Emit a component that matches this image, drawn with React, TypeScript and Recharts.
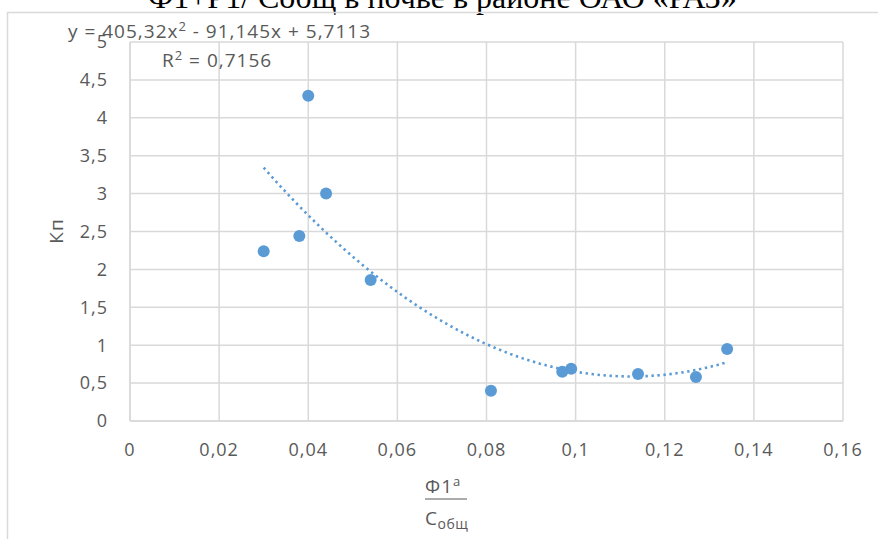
import React from "react";
import {
  CartesianGrid,
  Scatter,
  ScatterChart,
  XAxis,
  YAxis,
} from "recharts";

// measured points: share of Ф1ª in total carbon vs Кп
const xValues = [0.03, 0.038, 0.04, 0.044, 0.054, 0.081, 0.097, 0.099, 0.114, 0.127, 0.134];
const kpValues = [2.24, 2.44, 4.29, 3.0, 1.86, 0.4, 0.65, 0.69, 0.62, 0.58, 0.95];

// polynomial trend (2nd order) as printed on the chart
const trendCoef = [405.32, -91.145, 5.7113];
const trendFrom = 0.03;
const trendTo = 0.134;

const xTicks = [0, 0.02, 0.04, 0.06, 0.08, 0.1, 0.12, 0.14, 0.16];
const yTicks = [0, 0.5, 1, 1.5, 2, 2.5, 3, 3.5, 4, 4.5, 5];

const FONT = "'Open Sans', sans-serif";
const TEXT = "#595959";
const GRID = "#d9d9d9";
const BLUE = "#5b9bd5";

const points = xValues.map((x, i) => ({ x, y: kpValues[i] }));

const trend: { x: number; y: number }[] = [];
for (let i = 0; i <= 52; i++) {
  const x = trendFrom + ((trendTo - trendFrom) * i) / 52;
  trend.push({ x, y: trendCoef[0] * x * x + trendCoef[1] * x + trendCoef[2] });
}

const comma = (v: number) => String(v).replace(".", ",");

const tickStyle = { fontFamily: FONT, fontSize: 18, fill: TEXT, letterSpacing: 1 };

const Dot = (props: any) => (
  <circle cx={props.cx} cy={props.cy} r={6} fill={BLUE} />
);

const NoDot = () => <g />;

export default function App() {
  return (
    <div
      style={{
        position: "absolute",
        left: 0,
        top: 0,
        width: 878,
        height: 539,
        overflow: "hidden",
        background: "#fff",
      }}
    >
      <svg
        width={878}
        height={539}
        style={{ position: "absolute", left: 0, top: 0 }}
      >
        <text
          x={148}
          y={8}
          fontFamily="'Liberation Serif', serif"
          fontSize={32}
          fill="#000"
        >
          Ф1+Р1/ Собщ в почве в районе ОАО «РАЗ»
        </text>
        <rect x={7.5} y={12.5} width={900} height={600} fill="none" stroke={GRID} strokeWidth={1.5} />
      </svg>
      <div style={{ position: "absolute", left: 0, top: 0 }}>
        <ScatterChart
          width={878}
          height={539}
          margin={{ top: 42, right: 35, bottom: 0, left: 0 }}
        >
          <CartesianGrid stroke={GRID} strokeWidth={1.5} />
          <XAxis
            type="number"
            dataKey="x"
            domain={[0, 0.16]}
            ticks={xTicks}
            tickFormatter={comma}
            height={118}
            tickLine={false}
            tickSize={0}
            tickMargin={22}
            axisLine={{ stroke: GRID, strokeWidth: 1.5 }}
            tick={tickStyle}
            interval={0}
          />
          <YAxis
            type="number"
            dataKey="y"
            domain={[0, 5]}
            ticks={yTicks}
            tickFormatter={comma}
            width={130}
            tickLine={false}
            tickSize={0}
            tickMargin={22}
            axisLine={{ stroke: GRID, strokeWidth: 1.5 }}
            tick={tickStyle}
            interval={0}
          />
          <Scatter
            data={trend}
            shape={NoDot}
            line={{ stroke: BLUE, strokeWidth: 2.6, strokeDasharray: "2.4 3.6" }}
            lineType="joint"
            isAnimationActive={false}
          />
          <Scatter data={points} shape={Dot} isAnimationActive={false} />
        </ScatterChart>
      </div>
      <svg
        width={878}
        height={539}
        style={{ position: "absolute", left: 0, top: 0, pointerEvents: "none" }}
        fontFamily={FONT}
        fill={TEXT}
      >
        <text x={68} y={38} fontSize={19} letterSpacing={1}>
          y = 405,32x<tspan dy={-7} fontSize={13}>2</tspan>
          <tspan dy={7}> - 91,145x + 5,7113</tspan>
        </text>
        <text x={162} y={67} fontSize={19} letterSpacing={1}>
          R<tspan dy={-7} fontSize={13}>2</tspan>
          <tspan dy={7}> = 0,7156</tspan>
        </text>
        <text
          x={56}
          y={231}
          fontSize={19}
          letterSpacing={1}
          textAnchor="middle"
          dominantBaseline="central"
          transform="rotate(-90 56 231)"
        >
          Кп
        </text>
        <text x={425} y={493} fontSize={19} letterSpacing={1}>
          Ф1<tspan dy={-7} fontSize={13}>а</tspan>
        </text>
        <line x1={425} y1={499} x2={467} y2={499} stroke={TEXT} strokeWidth={1.2} />
        <text x={425} y={525} fontSize={19} letterSpacing={0.5}>
          С<tspan dy={4} fontSize={14}>общ</tspan>
        </text>
      </svg>
    </div>
  );
}
